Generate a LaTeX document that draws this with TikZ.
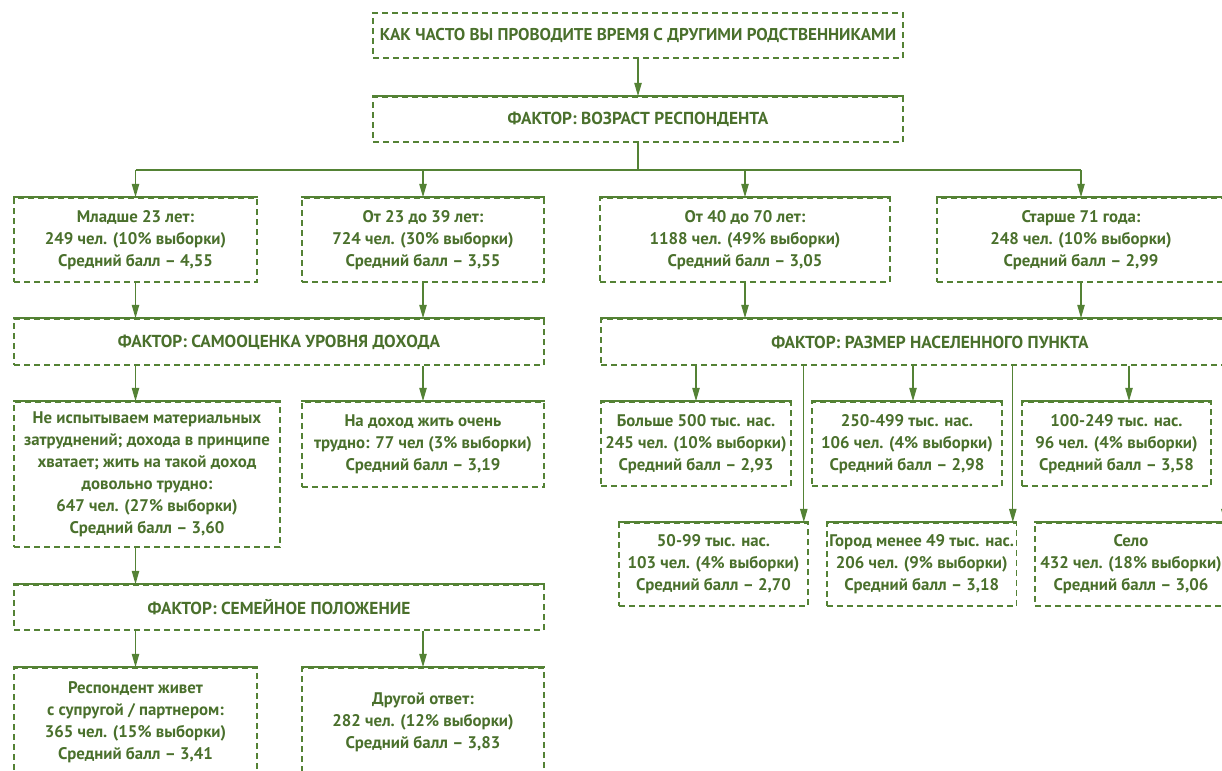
\documentclass[tikz,border=0pt]{standalone}
\usepackage{fontspec}
\setmainfont{PT Sans}
\usetikzlibrary{arrows.meta,calc}
\definecolor{lc}{RGB}{84,130,53}
\definecolor{tc}{RGB}{74,112,44}
\newcommand\bodyf{\fontsize{12.6}{16.5}\selectfont\bfseries}
\newcommand\factf{\fontsize{13}{16}\selectfont\bfseries}
\newcommand\titlef{\fontsize{12.8}{16}\selectfont\bfseries}
\tikzset{
  bx/.style={draw=lc, line width=1.2pt, dash pattern=on 4.5pt off 3pt, inner sep=0pt,
    align=center, text=tc, font=\bodyf},
  fx/.style={bx, font=\factf},
  topedge/.style={draw=lc, line width=1.2pt},
  ln/.style={draw=lc, line width=1pt},
  arr/.style={draw=lc, fill=lc, line width=1pt, -{Triangle[length=10pt,width=5.5pt]}},
}
\begin{document}
\begin{tikzpicture}[x=0.75pt,y=-0.75pt]
\useasboundingbox (0,0) rectangle (1222,771);
\clip (0,0) rectangle (1222,771);
% title and age factor
\node[bx, font=\titlef, minimum width={530*0.75pt}, minimum height={45*0.75pt}] (q) at (638,35.5) {КАК ЧАСТО ВЫ ПРОВОДИТЕ ВРЕМЯ С ДРУГИМИ РОДСТВЕННИКАМИ};
\node[fx, minimum width={530*0.75pt}, minimum height={45*0.75pt}] (age) at (638,119.5) {ФАКТОР: ВОЗРАСТ РЕСПОНДЕНТА};
% age groups
\node[bx, minimum width={243*0.75pt}, minimum height={84*0.75pt}] (a1) at (135.5,240) {Младше 23 лет:\\249 чел. (10\% выборки)\\Средний балл – 4,55};
\node[bx, minimum width={242*0.75pt}, minimum height={84*0.75pt}] (a2) at (423,240) {От 23 до 39 лет:\\724 чел. (30\% выборки)\\Средний балл – 3,55};
\node[bx, minimum width={289.5*0.75pt}, minimum height={84*0.75pt}] (a3) at (745,240) {От 40 до 70 лет:\\1188 чел. (49\% выборки)\\Средний балл – 3,05};
\node[bx, minimum width={288*0.75pt}, minimum height={84*0.75pt}] (a4) at (1081,240) {Старше 71 года:\\248 чел. (10\% выборки)\\Средний балл – 2,99};
% factors
\node[fx, minimum width={530*0.75pt}, minimum height={46*0.75pt}] (inc) at (279,342) {ФАКТОР: САМООЦЕНКА УРОВНЯ ДОХОДА};
\node[fx, minimum width={658*0.75pt}, minimum height={46*0.75pt}] (set) at (930,342) {ФАКТОР: РАЗМЕР НАСЕЛЕННОГО ПУНКТА};
% income groups
\node[bx, minimum width={266*0.75pt}, minimum height={145*0.75pt}] (i1) at (147,474.5) {Не испытываем материальных\\затруднений; дохода в принципе\\хватает; жить на такой доход\\довольно трудно:\\647 чел. (27\% выборки)\\Средний балл – 3,60};
\node[bx, minimum width={242*0.75pt}, minimum height={85*0.75pt}] (i2) at (423,444.5) {На доход жить очень\\трудно: 77 чел (3\% выборки)\\Средний балл – 3,19};
\node[fx, minimum width={530*0.75pt}, minimum height={45*0.75pt}] (fam) at (279,607.5) {ФАКТОР: СЕМЕЙНОЕ ПОЛОЖЕНИЕ};
\node[bx, minimum width={243*0.75pt}, minimum height={108*0.75pt}] (f1) at (135.5,722) {Респондент живет\\с супругой / партнером:\\365 чел. (15\% выборки)\\Средний балл – 3,41};
\node[bx, minimum width={242*0.75pt}, minimum height={108*0.75pt}] (f2) at (423,722) {Другой ответ:\\282 чел. (12\% выборки)\\Средний балл – 3,83};
% settlement groups
\node[bx, minimum width={190*0.75pt}, minimum height={84*0.75pt}] (s1) at (696,444) {Больше 500 тыс. нас.\\245 чел. (10\% выборки)\\Средний балл – 2,93};
\node[bx, minimum width={190*0.75pt}, minimum height={84*0.75pt}] (s2) at (907,444) {250-499 тыс. нас.\\106 чел. (4\% выборки)\\Средний балл – 2,98};
\node[bx, minimum width={189*0.75pt}, minimum height={84*0.75pt}] (s3) at (1116.5,444) {100-249 тыс. нас.\\96 чел. (4\% выборки)\\Средний балл – 3,58};
\node[bx, minimum width={189*0.75pt}, minimum height={83*0.75pt}] (s4) at (713.5,564.5) {50-99 тыс. нас.\\103 чел. (4\% выборки)\\Средний балл – 2,70};
\node[bx, minimum width={189.5*0.75pt}, minimum height={83*0.75pt}] (s5) at (921.75,564.5) {Город менее 49 тыс. нас.\\206 чел. (9\% выборки)\\Средний балл – 3,18};
\node[bx, minimum width={192*0.75pt}, minimum height={83*0.75pt}] (s6) at (1131,564.5) {Село\\432 чел. (18\% выборки)\\Средний балл – 3,06};
% solid top edges
\foreach \n in {age,a1,a2,a3,a4,inc,set,i1,i2,fam,f1,f2,s1,s2,s3,s4,s5,s6}
  \draw[topedge] (\n.north west) -- (\n.north east);
% connectors
\draw[arr] (q.south) -- (age.north);
\coordinate (hj) at (638,170);
\draw[ln] (age.south) -- (hj);
\draw[ln] (hj -| a1.north) -- (hj -| a4.north);
\foreach \n in {a1,a2,a3,a4}
  \draw[arr] (hj -| \n.north) -- (\n.north);
\draw[arr] (a1.south) -- (a1.south |- inc.north);
\draw[arr] (a2.south) -- (a2.south |- inc.north);
\draw[arr] (a3.south) -- (a3.south |- set.north);
\draw[arr] (a4.south) -- (a4.south |- set.north);
\draw[arr] (inc.south -| a1.south) -- (i1.north -| a1.south);
\draw[arr] (i2.north |- inc.south) -- (i2.north);
\draw[arr] (i1.south -| a1.south) -- (fam.north -| a1.south);
\draw[arr] (f1.north |- fam.south) -- (f1.north);
\draw[arr] (f2.north |- fam.south) -- (f2.north);
\coordinate (s2t) at ($(s2.north)+(6,0)$);
\coordinate (s3t) at ($(s3.north)+(12.5,0)$);
\coordinate (s4t) at ($(s4.north east)+(-5,0)$);
\coordinate (s5t) at ($(s5.north east)+(-4.5,0)$);
\coordinate (s6t) at ($(s6.north east)+(-3,0)$);
\draw[arr] (s1.north |- set.south) -- (s1.north);
\foreach \c in {s2t,s3t,s4t,s5t,s6t}
  \draw[arr] (\c |- set.south) -- (\c);
\end{tikzpicture}
\end{document}
